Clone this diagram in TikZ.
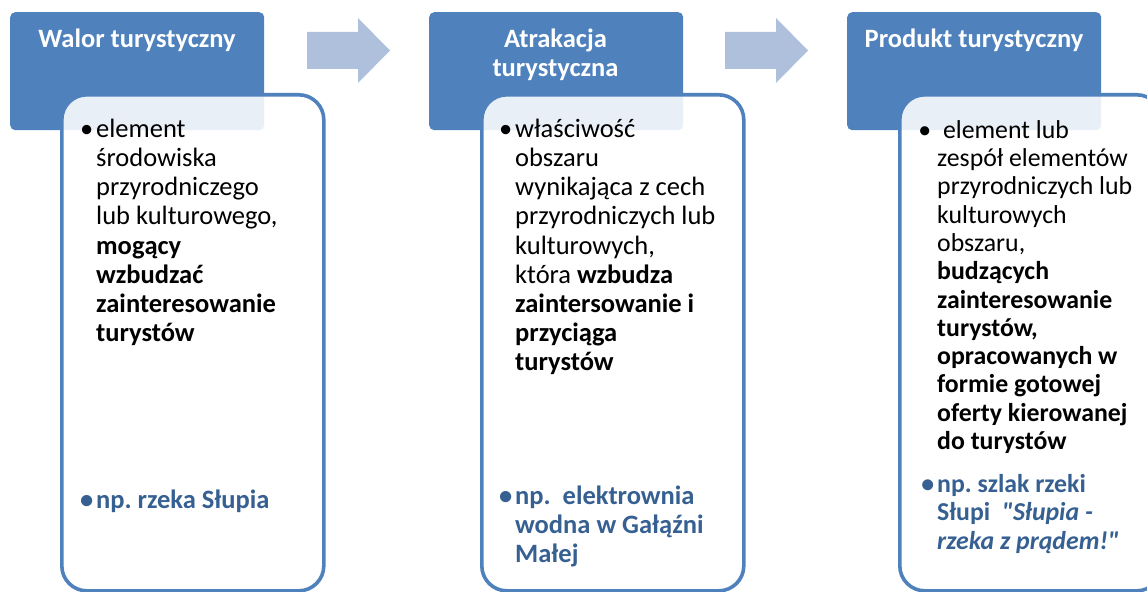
\documentclass[tikz,border=0pt]{standalone}
\usepackage{fontspec}
\setmainfont{Carlito}
\newfontfamily\plainq{Carlito}[Ligatures=NoCommon]
\frenchspacing
\definecolor{hdrblue}{RGB}{79,129,189}
\definecolor{arrowblue}{RGB}{175,192,221}
\definecolor{exblue}{RGB}{55,96,146}
\newcommand{\bodyfont}{\fontsize{26.5bp}{29.2bp}\selectfont}
\newcommand{\smallbodyfont}{\fontsize{25.8bp}{28.3bp}\selectfont}
\newcommand{\sq}{{\plainq\bfseries\itshape\symbol{34}}}
\tikzset{
  hdr/.style={fill=hdrblue, rounded corners=5bp, minimum width=254bp, minimum height=118bp, anchor=north west, inner sep=0pt},
  bodybox/.style={draw=hdrblue, line width=3.6bp, fill=white, fill opacity=0.88, draw opacity=1, rounded corners=25bp, minimum width=262bp, minimum height=496bp, anchor=north west, inner sep=0pt},
  ttl/.style={text=white, font=\bodyfont\bfseries, align=center, anchor=north, inner sep=0pt},
  txt/.style={text=black, font=\bodyfont, align=left, anchor=north west, inner sep=0pt},
  stxt/.style={text=black, font=\smallbodyfont, align=left, anchor=north west, inner sep=0pt},
  ex/.style={text=exblue, font=\bodyfont\bfseries, align=left, anchor=north west, inner sep=0pt},
  sex/.style={text=exblue, font=\smallbodyfont\bfseries, align=left, anchor=north west, inner sep=0pt},
  arr/.style={fill=arrowblue}
}
\newcommand{\bul}{\llap{•\hspace{3bp}}}
\begin{document}
\begin{tikzpicture}[x=1bp,y=-1bp]
\useasboundingbox (0,0) rectangle (1147,592);
% headers
\node[hdr] (h1) at (10,12) {};
\node[hdr] (h2) at (429,12) {};
\node[hdr] (h3) at (847,12) {};
% body boxes
\node[bodybox] (b1) at (60,93) {};
\node[bodybox] (b2) at (480,93) {};
\node[bodybox] (b3) at (898,93) {};
% titles
\node[ttl] (t1) at (137,26.6) {\strut Walor turystyczny};
\node[ttl] (t2) at (555.5,26.6) {\strut Atrakacja\\turystyczna};
\node[ttl] (t3) at (974,26.6) {\strut Produkt turystyczny};
% arrows
\coordinate (a1) at (307,50.5);
\coordinate (a2) at (725,50.5);
\fill[arr, shift={(a1)}] (0,-18.5) -- (51,-18.5) -- (51,-32.5) -- (83,0) -- (51,32.5) -- (51,18.5) -- (0,18.5) -- cycle;
\fill[arr, shift={(a2)}] (0,-18.5) -- (51,-18.5) -- (51,-32.5) -- (83,0) -- (51,32.5) -- (51,18.5) -- (0,18.5) -- cycle;
% body texts
\node[txt] (x1) at (96,116.6) {\strut\bul element\\środowiska\\przyrodniczego\\lub kulturowego,\\\textbf{mogący}\\\textbf{wzbudzać}\\\textbf{zainteresowanie}\\\textbf{turystów}};
\node[ex] (e1) at (96,487.6) {\strut\bul np. rzeka Słupia};
\node[txt] (x2) at (515,116.6) {\strut\bul właściwość\\obszaru\\wynikająca z cech\\przyrodniczych lub\\kulturowych,\\która \textbf{wzbudza}\\\textbf{zaintersowanie i}\\\textbf{przyciąga}\\\textbf{turystów}};
\node[ex] (e2) at (515,483.6) {\strut\bul np.\ \ elektrownia\\wodna w Gałąźni\\Małej};
\node[stxt] (x3) at (937,118.2) {\strut\llap{•\hspace{6bp}} element lub\\zespół elementów\\przyrodniczych lub\\kulturowych\\obszaru,\\\textbf{budzących}\\\textbf{zainteresowanie}\\\textbf{turystów,}\\\textbf{opracowanych w}\\\textbf{formie gotowej}\\\textbf{oferty kierowanej}\\\textbf{do turystów}};
\node[sex] (e3) at (937,472.5) {\strut\bul np. szlak rzeki\\Słupi\ \ \textit{\sq Słupia -}\\\textit{rzeka z prądem!\sq}};
\end{tikzpicture}
\end{document}
